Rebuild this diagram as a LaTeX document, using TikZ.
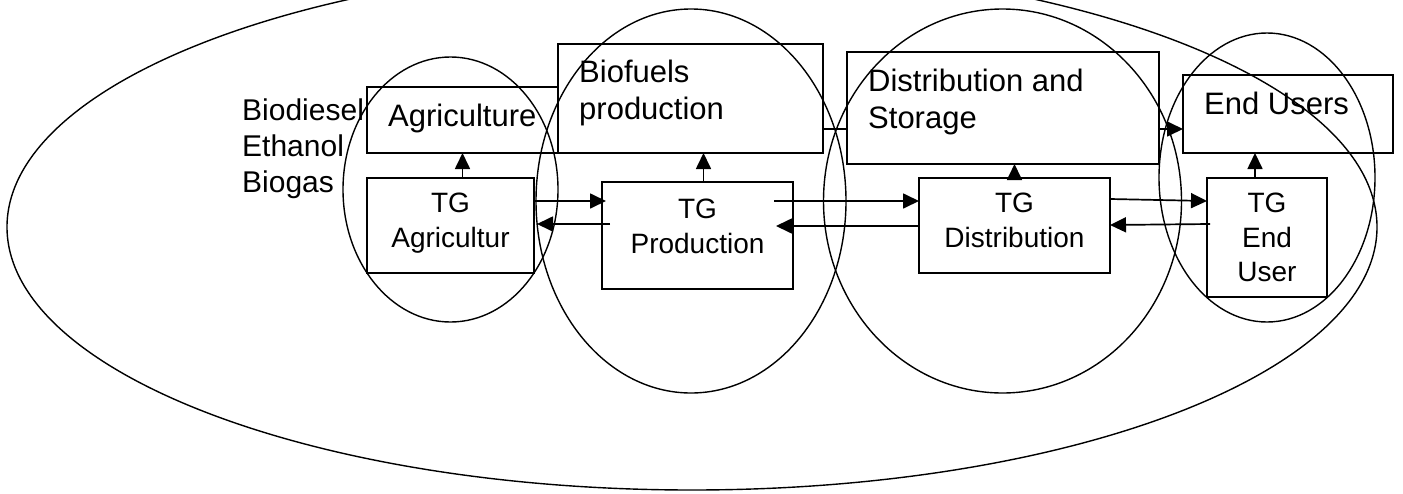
\documentclass[tikz,border=0pt]{standalone}
\usepackage{fontspec}
\setmainfont{Liberation Sans}
\usetikzlibrary{positioning,arrows.meta}

\begin{document}
\begin{tikzpicture}[x=1pt,y=-1pt,
        box/.style={draw,line width=1.8pt,fill=white,inner sep=0pt,outer sep=0pt,anchor=north west},
        bigtxt/.style={font=\fontsize{31}{37}\selectfont,align=left,inner sep=0pt},
        tgtxt/.style={font=\fontsize{28}{34.5}\selectfont,align=center,inner sep=0pt},
        arr/.style={line width=1.7pt,-{Triangle[length=16pt,width=15pt]}},
        ring/.style={line width=1.4pt}]
        \useasboundingbox (0,0) rectangle (1403,493);
        \coordinate (top) at (0,129);
        \coordinate (hi) at (0,201);
        \coordinate (lo) at (0,224);

        % sector boxes
        \node[box,minimum width=191pt,minimum height=66pt] (agri) at (367,87) {};
        \node[box,minimum width=265pt,minimum height=109pt] (biof) at (558,44) {};
        \node[box,minimum width=312pt,minimum height=112pt] (dist) at (847,52) {};
        \node[box,minimum width=210pt,minimum height=78pt] (endu) at (1183,75) {};
        \node[bigtxt,below right=17pt and 21pt of agri.north west] (agrilbl) {Agriculture};
        \node[bigtxt,below right=16pt and 21pt of biof.north west] (bioflbl) {Biofuels\\production};
        \node[bigtxt,below right=17pt and 21pt of dist.north west] (distlbl) {Distribution and\\Storage};
        \node[bigtxt,below right=17pt and 21pt of endu.north west] (endulbl) {End Users};

        % TG boxes
        \node[box,minimum width=167pt,minimum height=95pt] (tgagri) at (367,178) {};
        \node[box,minimum width=191pt,minimum height=107pt] (tgprod) at (602,182) {};
        \node[box,minimum width=191pt,minimum height=95pt] (tgdist) at (919,178) {};
        \node[box,minimum width=120pt,minimum height=119pt] (tgend) at (1207,178) {};
        \node[tgtxt,below=15pt of tgagri.north] (tgagrilbl) {TG\\Agricultur};
        \node[tgtxt,below=17pt of tgprod.north] (tgprodlbl) {TG\\Production};
        \node[tgtxt,below=15pt of tgdist.north] (tgdistlbl) {TG\\Distribution};
        \node[tgtxt,below=15pt of tgend.north] (tgendlbl) {TG\\End\\User};

        % biofuel types
        \node[font=\fontsize{30}{36}\selectfont,align=left,inner sep=0pt,anchor=north west] (fuels) at (242,99) {Biodiesel\\Ethanol\\Biogas};

        % TG up to sector
        \draw[arr] (agri.south |- tgagri.north) -- (agri.south);
        \draw[arr] ([xshift=6pt]tgprod.north) -- ([xshift=6pt]tgprod.north |- biof.south);
        \draw[arr] (tgdist.north) -- (tgdist.north |- dist.south);
        \draw[arr] ([xshift=-12pt]tgend.north) -- ([xshift=-12pt]tgend.north |- endu.south);

        % sector chain
        \draw[line width=1.7pt] (biof.east |- top) -- (dist.west |- top);
        \draw[arr] (dist.east |- top) -- (endu.west |- top);

        % TG exchanges
        \draw[arr] (tgagri.east |- hi) -- ([xshift=4pt]tgprod.west |- hi);
        \draw[arr] ([xshift=8pt]tgprod.west |- lo) -- ([xshift=3pt]tgagri.east |- lo);
        \draw[arr] ([xshift=-19pt]tgprod.east |- hi) -- (tgdist.west |- hi);
        \draw[arr] ([yshift=-2pt]tgdist.west |- lo) -- ([xshift=-17pt,yshift=-2pt]tgprod.east |- lo);
        \draw[arr] ([yshift=2pt]tgdist.east |- hi) -- (tgend.west |- hi);
        \draw[arr] ([xshift=3pt]tgend.west |- lo) -- ([yshift=-1pt]tgdist.east |- lo);

        % groups
        \draw[ring] (692,227) ellipse [x radius=685, y radius=263];
        \draw[ring] (450.5,189.5) ellipse [x radius=107.5, y radius=132.5];
        \draw[ring] (691,201) ellipse [x radius=155, y radius=192];
        \draw[ring] (1002.5,201) ellipse [x radius=179, y radius=192];
        \draw[ring] (1267,177.5) ellipse [x radius=108, y radius=144.5];
\end{tikzpicture}
\end{document}
